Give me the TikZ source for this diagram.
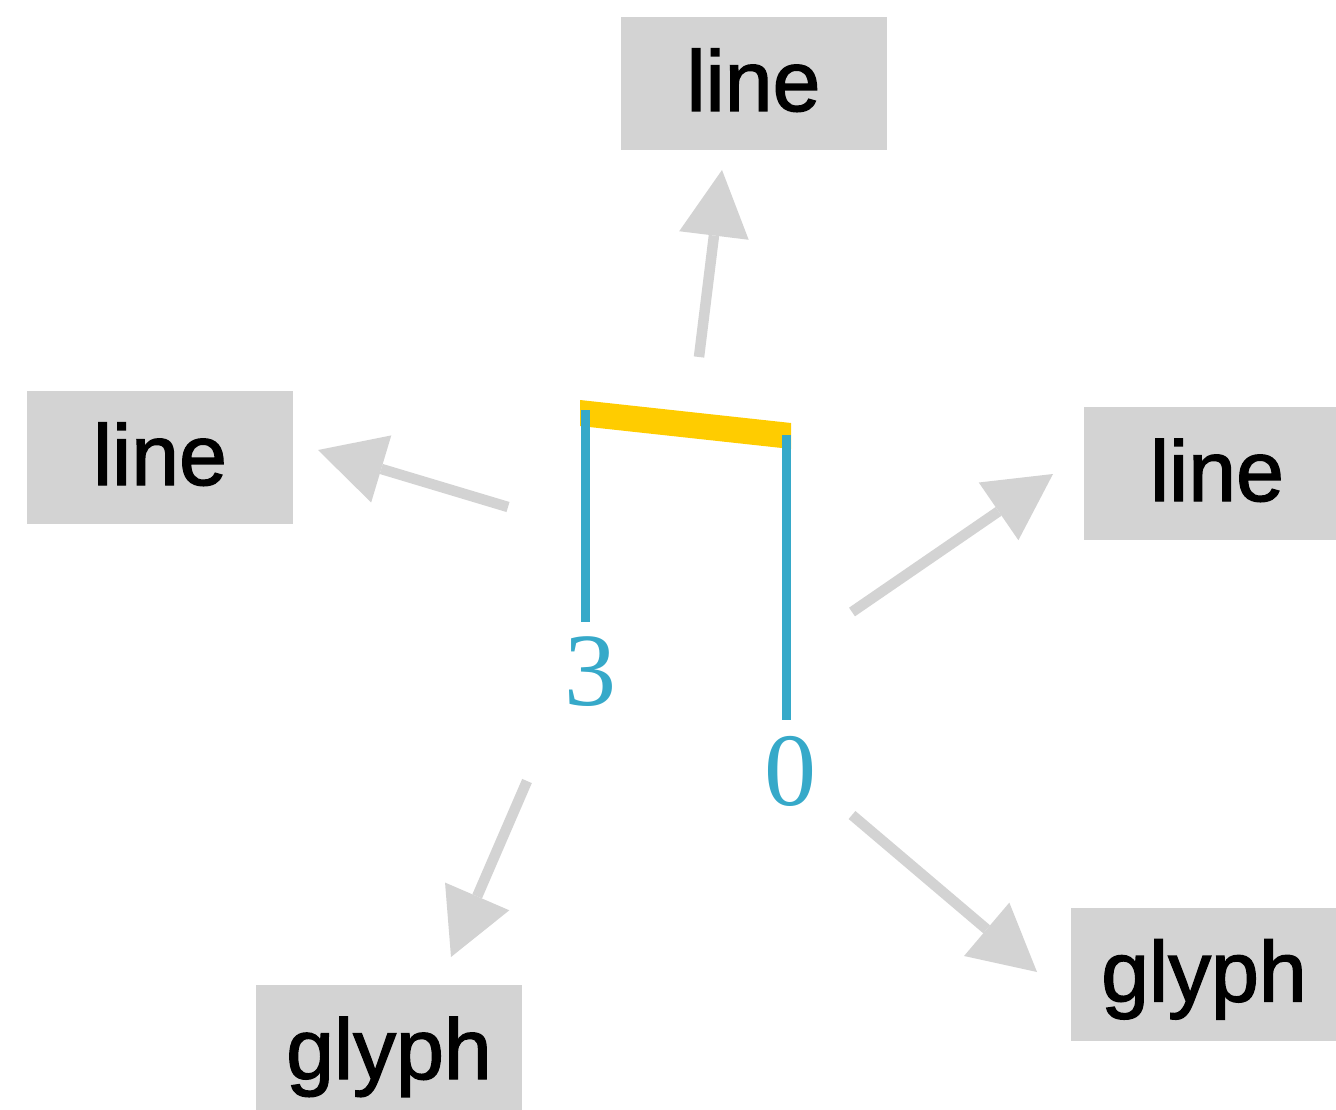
\documentclass[tikz,border=0pt]{standalone}
\usepackage{fontspec}
\setmainfont{Liberation Sans}[BoldFont={Liberation Sans}, BoldFeatures={FakeBold=1.6}]
\newfontfamily\digitfont{Liberation Serif}
\usetikzlibrary{arrows.meta}
\definecolor{boxgray}{HTML}{D3D3D3}
\definecolor{stemteal}{HTML}{36A9C9}
\definecolor{beamgold}{HTML}{FFCC00}
\tikzset{
  label box/.style={fill=boxgray, inner sep=0pt, minimum width=266pt, minimum height=133pt,
    text height=70pt, text depth=15pt, font=\fontsize{86}{100}\selectfont\bfseries},
  pointer/.style={draw=boxgray, line width=10.5pt,
    -{Triangle[length=66pt, width=70pt, line width=0pt]}},
  stem/.style={draw=stemteal, line width=9pt},
  fingering/.style={text=stemteal, inner sep=0pt, font=\digitfont\fontsize{104}{110}\selectfont}
}
\begin{document}
\begin{tikzpicture}[x=1pt, y=-1pt]
  \useasboundingbox (0,0) rectangle (1336,1110);
  \begin{scope}
    \clip (0,0) rectangle (1336,1110);
    % labels
    \node[label box] (topline)   at (753.5,83.5)  {line};
    \node[label box] (leftline)  at (160,457.5)   {line};
    \node[label box] (rightline) at (1217,473.5)  {line};
    \node[label box] (blglyph)   at (389,1051.5)  {glyph};
    \node[label box] (brglyph)   at (1204,974)    {glyph};
  \end{scope}

  % beamed note group
  \fill[beamgold] (580,400) -- (791,423) -- (791,449) -- (580,426) -- cycle;
  \coordinate (stemAtop) at (585.5,410);
  \coordinate (stemAbot) at (585.5,622);
  \coordinate (stemBtop) at (786,435);
  \coordinate (stemBbot) at (786,720);
  \draw[stem] (stemAtop) -- (stemAbot);
  \draw[stem] (stemBtop) -- (stemBbot);
  \node[fingering] (three) at (590,672) {3};
  \node[fingering] (zero)  at (790,771) {0};

  % pointers from the note parts to their labels
  \coordinate (pTopS) at (699,357);   \coordinate (pTopE) at (722,170);
  \coordinate (pLeftS) at (508,507);  \coordinate (pLeftE) at (318,450);
  \coordinate (pRightS) at (852,612); \coordinate (pRightE) at (1053,474);
  \coordinate (pBLS) at (527,781);    \coordinate (pBLE) at (451,957);
  \coordinate (pBRS) at (852,815);    \coordinate (pBRE) at (1037,972);
  \draw[pointer] (pTopS) -- (pTopE);
  \draw[pointer] (pLeftS) -- (pLeftE);
  \draw[pointer] (pRightS) -- (pRightE);
  \draw[pointer] (pBLS) -- (pBLE);
  \draw[pointer] (pBRS) -- (pBRE);
\end{tikzpicture}
\end{document}
